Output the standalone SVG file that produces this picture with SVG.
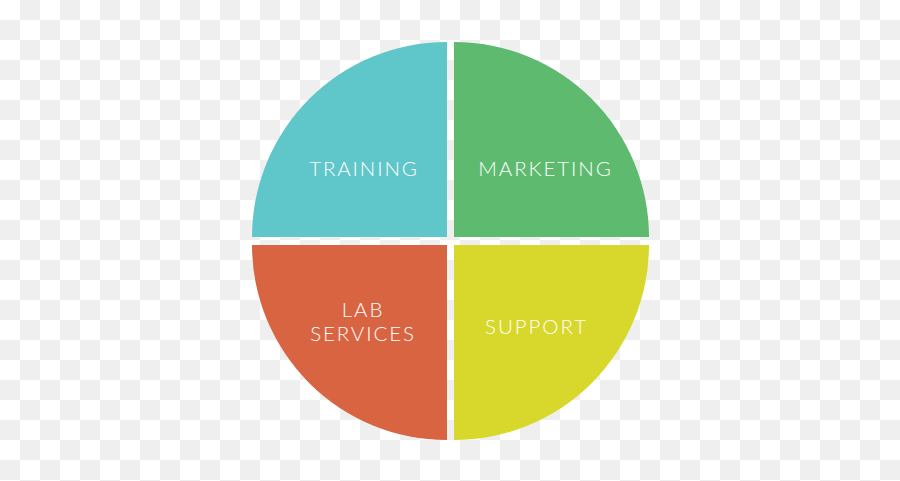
<svg xmlns="http://www.w3.org/2000/svg" width="900" height="481" viewBox="0 0 900 481">
<defs>
<pattern id="checker" x="0" y="0" width="40" height="40" patternUnits="userSpaceOnUse">
<rect x="0" y="0" width="40" height="40" fill="#ffffff"/>
<rect x="20" y="0" width="20" height="20" fill="#efefef"/>
<rect x="0" y="20" width="20" height="20" fill="#efefef"/>
</pattern>
</defs>
<style>
.lbl{font-family:Lato,"Open Sans","Liberation Sans",sans-serif;font-weight:300;font-size:20.5px;fill:#ffffff;letter-spacing:1.9px;text-anchor:middle}
</style>
<rect x="0" y="0" width="900" height="481" fill="url(#checker)"/>
<g id="training">
<path d="M447,237 L252,237 A195,195 0 0 1 447,42 Z" fill="#5fc6c9"/>
<text class="lbl" x="364" y="175.5">TRAINING</text>
</g>
<g id="marketing">
<path d="M454,237 L454,42 A195,195 0 0 1 649,237 Z" fill="#5dba6f"/>
<text class="lbl" x="545.5" y="175.5">MARKETING</text>
</g>
<g id="lab-services">
<path d="M447,245 L447,440 A195,195 0 0 1 252,245 Z" fill="#d86442"/>
<text class="lbl" x="363" y="317.3">LAB</text>
<text class="lbl" x="363" y="341.3">SERVICES</text>
</g>
<g id="support">
<path d="M454,245 L649,245 A195,195 0 0 1 454,440 Z" fill="#d8d82c"/>
<text class="lbl" x="536.5" y="334">SUPPORT</text>
</g>
<g id="connectors"></g>
</svg>
